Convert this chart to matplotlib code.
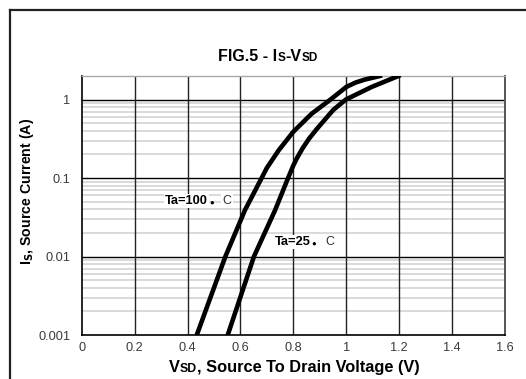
import matplotlib
matplotlib.use("Agg")
import matplotlib.pyplot as plt
from matplotlib.lines import Line2D

# ---- data ----
v_100 = [0.435, 0.543, 0.617, 0.680, 0.700, 0.720, 0.745, 0.770, 0.800, 0.869, 0.940, 1.000, 1.035, 1.070, 1.127]
i_100 = [0.001, 0.010, 0.039, 0.100, 0.135, 0.170, 0.227, 0.290, 0.390, 0.660, 1.000, 1.450, 1.650, 1.800, 2.000]
v_25 = [0.552, 0.651, 0.731, 0.780, 0.800, 0.813, 0.835, 0.860, 0.888, 0.920, 0.951, 0.998, 1.096, 1.197]
i_25 = [0.001, 0.010, 0.039, 0.100, 0.145, 0.178, 0.240, 0.320, 0.420, 0.560, 0.740, 1.000, 1.450, 2.000]
x_ticks = [0, 0.2, 0.4, 0.6, 0.8, 1.0, 1.2, 1.4, 1.6]
x_ticklabels = ["0", "0.2", "0.4", "0.6", "0.8", "1", "1.2", "1.4", "1.6"]
y_ticks = [0.001, 0.01, 0.1, 1]
y_ticklabels = ["0.001", "0.01", "0.1", "1"]

plt.rcParams['font.family'] = ['Liberation Sans', 'DejaVu Sans']

W, H = 526, 379
fig = plt.figure(figsize=(W / 100, H / 100), dpi=100)
fig.patch.set_facecolor('white')

L, R, T, B = 81.7, 505.0, 76.0, 335.0
ax = fig.add_axes([L / W, 1 - B / H, (R - L) / W, (B - T) / H])
ax.set_yscale('log')
ax.set_xlim(0, 1.6)
ax.set_ylim(0.001, 2.0)

# grid
for d in [0.001, 0.01, 0.1]:
    for k in range(2, 10):
        ax.axhline(d * k, color='#cfcfcf', lw=1.1, zorder=1)
for y in y_ticks[1:]:
    ax.axhline(y, color='black', lw=1.0, zorder=2)
for x in x_ticks[1:-1]:
    ax.axvline(x, color='#222222', lw=1.0, zorder=2)

ax.set_xticks(x_ticks)
ax.set_xticklabels(x_ticklabels)
ax.set_yticks(y_ticks)
ax.set_yticklabels(y_ticklabels)
ax.yaxis.set_minor_locator(matplotlib.ticker.NullLocator())
ax.tick_params(axis='both', length=0, labelsize=9.2, labelcolor='#3a3a3a')
ax.tick_params(axis='y', pad=8)
ax.tick_params(axis='x', pad=5)

for s in ['left', 'bottom']:
    ax.spines[s].set_color('black')
    ax.spines[s].set_linewidth(1.2)
ax.spines['right'].set_color('#555555')
ax.spines['right'].set_linewidth(1.4)
ax.spines['top'].set_color('#aaaaaa')
ax.spines['top'].set_linewidth(1.0)

# curves
ax.plot(v_100, i_100, color='black', lw=3.3, solid_joinstyle='round', zorder=5)
ax.plot(v_25, i_25, color='black', lw=3.3, solid_joinstyle='round', zorder=5)

# curve labels
bb = dict(facecolor='white', edgecolor='none', pad=1.0)
def curve_label(x, y, txt):
    t = ax.text(x, y, txt, fontsize=9.3, fontweight='bold', ha='left', va='center',
                bbox=bb, zorder=6)
    ax.annotate("\u25CF", xy=(1, 0), xycoords=t, xytext=(0.8, 0.4), textcoords='offset points',
                fontsize=5.6, ha='left', va='bottom', zorder=7)
    ax.annotate("C", xy=(1, 0), xycoords=t, xytext=(10.5, 0), textcoords='offset points',
                fontsize=9, ha='left', va='bottom', color='#333333', bbox=bb, zorder=6)

curve_label(0.315, 0.051, "Ta=100")
curve_label(0.73, 0.0153, "Ta=25")

# title and x label with small-caps pieces
def chain(parts, x, y, big, small):
    r = fig.canvas.get_renderer()
    tmp = []
    total = 0
    for txt, sm in parts:
        t = fig.text(0, 0, txt, fontsize=small if sm else big, fontweight='bold')
        w = t.get_window_extent(r).width
        tmp.append((t, w))
        total += w
    xpos = x - total / 2
    for t, w in tmp:
        t.set_position((xpos / W, 1 - y / H))
        t.set_va('baseline')
        xpos += w

chain([("FIG.5 - I", False), ("S", True), ("-V", False), ("SD", True)], 268, 61, 11.5, 8.5)
chain([("V", False), ("SD", True), (", Source To Drain Voltage (V)", False)], 294, 372, 11.8, 8.8)

# y label
fig.text(27 / W, 1 - 191 / H, r"I$_\mathbf{S}$, Source Current (A)", rotation=90,
         fontsize=10.2, fontweight='bold', ha='center', va='center')

# outer frame (top and left edges visible)
fig.add_artist(Line2D([10 / W, 1.0], [1 - 10 / H, 1 - 10 / H], color='#222222', lw=1.6))
fig.add_artist(Line2D([10 / W, 10 / W], [1 - 10 / H, 0.0], color='#222222', lw=1.6))

fig.savefig("out.png", dpi=100)
